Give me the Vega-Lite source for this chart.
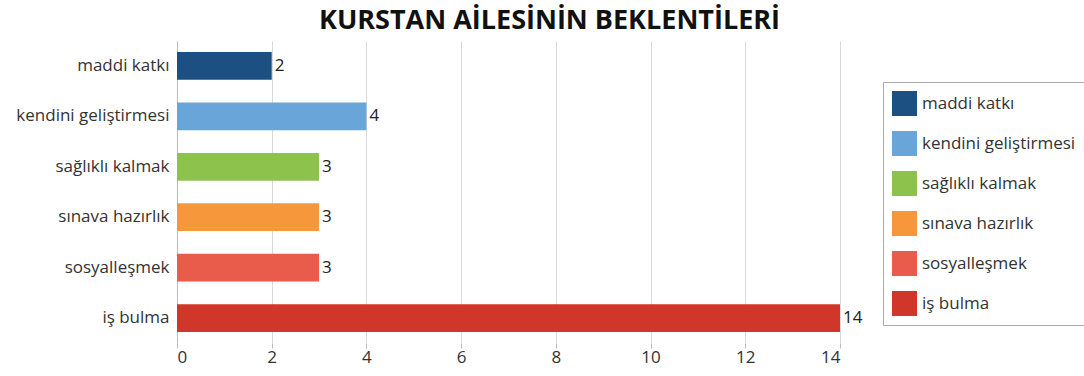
{
  "$schema": "https://vega.github.io/schema/vega-lite/v6.json",
  "autosize": "none",
  "width": 663,
  "height": 302,
  "padding": {"left": 177, "top": 41, "right": 244, "bottom": 33},
  "background": "white",
  "title": {
    "text": "KURSTAN AİLESİNİN BEKLENTİLERİ",
    "font": "Open Sans",
    "fontSize": 27,
    "fontWeight": "bold",
    "color": "#111111",
    "anchor": "middle",
    "dx": 41,
    "offset": 6
  },
  "data": {
    "values": [
      {"kategori": "maddi katkı", "deger": 2},
      {"kategori": "kendini geliştirmesi", "deger": 4},
      {"kategori": "sağlıklı kalmak", "deger": 3},
      {"kategori": "sınava hazırlık", "deger": 3},
      {"kategori": "sosyalleşmek", "deger": 3},
      {"kategori": "iş bulma", "deger": 14}
    ]
  },
  "config": {
    "view": {"stroke": null},
    "font": "Open Sans"
  },
  "encoding": {
    "y": {
      "field": "kategori",
      "type": "nominal",
      "sort": null,
      "scale": {"paddingInner": 0.45, "paddingOuter": 0.22},
      "axis": {
        "title": null,
        "labelFontSize": 17,
        "labelColor": "#333333",
        "labelFont": "Open Sans",
        "ticks": false,
        "labelPadding": 8,
        "labelLimit": 200,
        "domainColor": "#bbbbbb"
      }
    },
    "x": {
      "field": "deger",
      "type": "quantitative",
      "scale": {"domain": [0, 14], "nice": false},
      "axis": {
        "title": null,
        "values": [0, 2, 4, 6, 8, 10, 12, 14],
        "labelFontSize": 17,
        "labelColor": "#333333",
        "labelFont": "Open Sans",
        "gridColor": "#d9d9d9",
        "domain": false,
        "tickColor": "#bbbbbb",
        "tickSize": 5,
        "labelPadding": 1
      }
    }
  },
  "layer": [
    {
      "mark": {"type": "bar"},
      "encoding": {
        "color": {
          "field": "kategori",
          "type": "nominal",
          "sort": null,
          "scale": {
            "domain": ["maddi katkı", "kendini geliştirmesi", "sağlıklı kalmak", "sınava hazırlık", "sosyalleşmek", "iş bulma"],
            "range": ["#1c4f82", "#6aa5d9", "#8dc24c", "#f7973b", "#e95c4b", "#d0372a"]
          },
          "legend": {
            "title": null,
            "orient": "none",
            "legendX": 706,
            "legendY": 41,
            "symbolType": "square",
            "symbolSize": 625,
            "symbolStrokeWidth": 0,
            "labelFontSize": 17,
            "labelColor": "#333333",
            "labelFont": "Open Sans",
            "labelOffset": 5,
            "labelLimit": 250,
            "rowPadding": 15,
            "strokeColor": "#aaaaaa",
            "padding": 9,
            "fillColor": "white"
          }
        }
      }
    },
    {
      "mark": {"type": "text", "align": "left", "baseline": "middle", "dx": 3, "fontSize": 17, "color": "#222222", "font": "Open Sans"},
      "encoding": {"text": {"field": "deger", "type": "quantitative"}}
    }
  ]
}
